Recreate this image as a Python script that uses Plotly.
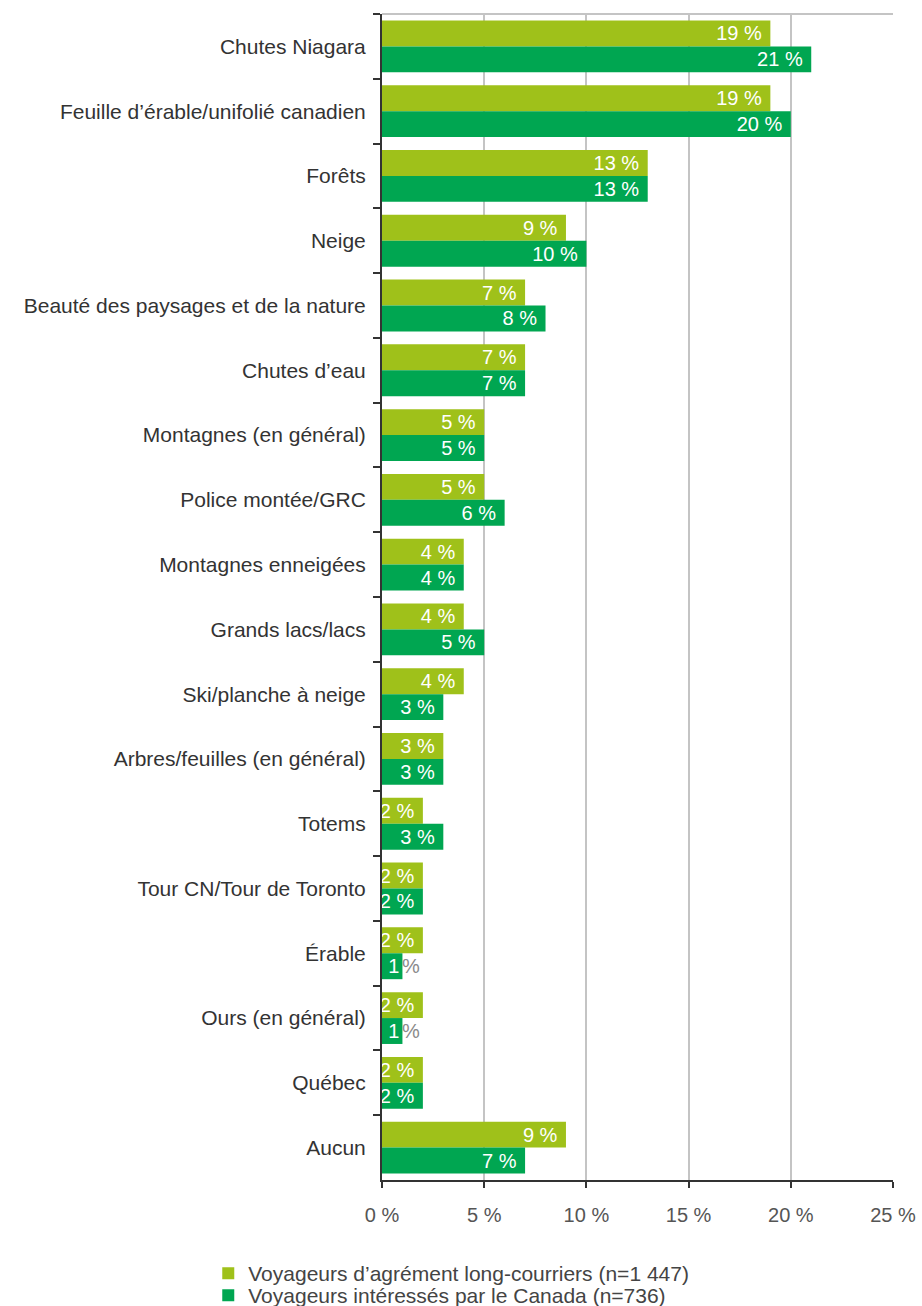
import plotly.graph_objects as go

categories = [
    "Chutes Niagara", "Feuille d’érable/unifolié canadien", "Forêts", "Neige",
    "Beauté des paysages et de la nature", "Chutes d’eau", "Montagnes (en général)",
    "Police montée/GRC", "Montagnes enneigées", "Grands lacs/lacs",
    "Ski/planche à neige", "Arbres/feuilles (en général)", "Totems",
    "Tour CN/Tour de Toronto", "Érable", "Ours (en général)", "Québec", "Aucun",
]
long_courriers = [19, 19, 13, 9, 7, 7, 5, 5, 4, 4, 4, 3, 2, 2, 2, 2, 2, 9]
interesses = [21, 20, 13, 10, 8, 7, 5, 6, 4, 5, 3, 3, 3, 2, 1, 1, 2, 7]
x_ticks = [0, 5, 10, 15, 20, 25]

FONT = "Liberation Sans, Arial, sans-serif"
LIGHT = "#9FC11A"
DARK = "#00A651"
NBSP = "\u00a0"


def bar_text(values):
    # les barres à 1 % n'affichent que le chiffre, le « % » est ajouté à côté
    return [str(v) if v < 2 else f"{v}{NBSP}%{NBSP}" for v in values]


fig = go.Figure()

fig.add_trace(go.Bar(
    y = categories,
    x = long_courriers,
    orientation = 'h',
    name = "Voyageurs d’agrément long-courriers (n=1 447)",
    marker = dict(color = LIGHT, line = dict(width = 0)),
    text = bar_text(long_courriers),
    textposition = 'inside',
    insidetextanchor = 'end',
    constraintext = 'none',
    textfont = dict(color = 'white', size = 20, family = FONT),
    showlegend = True,
    legend = 'legend',
))

fig.add_trace(go.Bar(
    y = categories,
    x = interesses,
    orientation = 'h',
    name = "Voyageurs intéressés par le Canada (n=736)",
    marker = dict(color = DARK, line = dict(width = 0)),
    text = bar_text(interesses),
    textposition = 'inside',
    insidetextanchor = 'end',
    constraintext = 'none',
    textfont = dict(color = 'white', size = 20, family = FONT),
    showlegend = True,
    legend = 'legend2',
))

# le « % » gris qui dépasse des barres à 1 %
for cat, v in zip(categories, interesses):
    if v < 2:
        fig.add_annotation(
            x = v, y = cat, yshift = -13,
            text = "%", showarrow = False,
            xanchor = 'left', xshift = -2,
            font = dict(color = '#8a8a8a', size = 20, family = FONT),
        )

# deux légendes séparées pour garder les lignes serrées comme dans l'original
legend_style = dict(
    x = -0.34,
    xanchor = 'left', yanchor = 'top',
    font = dict(size = 21, color = '#444444'),
    itemwidth = 30,
    bgcolor = 'rgba(0,0,0,0)',
    visible = True,
)

fig.update_layout(
    width = 922,
    height = 1306,
    showlegend = True,
    barmode = 'group',
    bargap = 0.2,
    bargroupgap = 0,
    plot_bgcolor = 'white',
    paper_bgcolor = 'white',
    margin = dict(l = 382, r = 29, t = 14, b = 126, autoexpand = False),
    font = dict(family = FONT, size = 21, color = '#3a3a3a'),
    legend = dict(y = -0.0626, **legend_style),
    legend2 = dict(y = -0.0815, **legend_style),
    shapes = [dict(
        type = 'line', xref = 'paper', yref = 'paper',
        x0 = 0, x1 = 1, y0 = 1, y1 = 1,
        line = dict(color = '#c4c4c4', width = 2),
    )],
)

fig.update_xaxes(
    range = [0, 25],
    tickvals = x_ticks,
    ticktext = [f"{t} %" for t in x_ticks],
    showgrid = True,
    gridcolor = '#c4c4c4',
    gridwidth = 2,
    zeroline = False,
    showline = True,
    linecolor = '#333333',
    linewidth = 2,
    ticks = 'outside',
    ticklen = 6,
    tickwidth = 2,
    tickcolor = '#333333',
    tickfont = dict(size = 20, color = '#555555'),
    ticklabelstandoff = 10,
    ticklabeloverflow = 'allow',
)

fig.update_yaxes(
    autorange = 'reversed',
    showgrid = False,
    showline = True,
    linecolor = '#333333',
    linewidth = 2,
    ticks = 'outside',
    tickson = 'boundaries',
    ticklen = 7,
    tickwidth = 1.5,
    tickcolor = '#333333',
    tickfont = dict(size = 21, color = '#333333'),
    ticklabelstandoff = 10,
)

# sans marge de page, le graphique remplit toute la fenêtre
fig.write_html(
    "out.html",
    config = {'displayModeBar': False},
    post_script = "document.body.style.margin = '0';",
)
